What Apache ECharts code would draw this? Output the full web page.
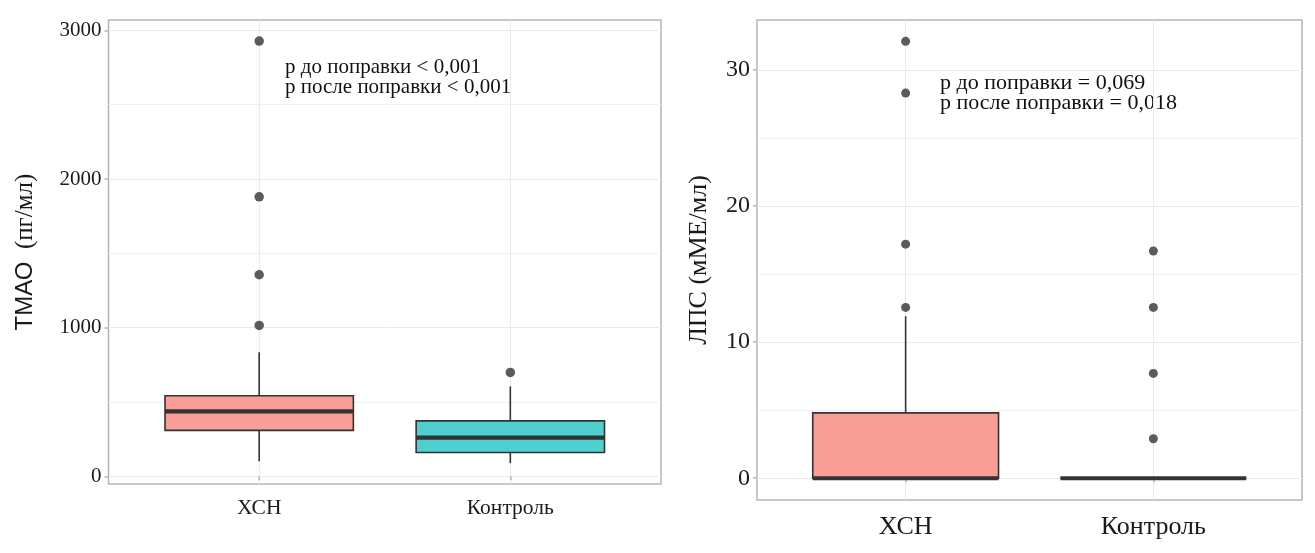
<!DOCTYPE html>
<html>
<head>
<meta charset="utf-8">
<script src="https://cdn.jsdelivr.net/npm/echarts@6/dist/echarts.min.js"></script>
<style>
html,body{margin:0;padding:0;background:#fff;}
#chart{width:1315px;height:553px;}
</style>
</head>
<body>
<div id="chart"></div>
<script>
// ---- data ----
const categories = ['ХСН', 'Контроль'];
// box stats per category: [lower whisker, Q1, median, Q3, upper whisker]
const tmaoBox = [[101, 309, 437, 542, 834], [88, 160, 260, 373, 604]];
const tmaoOutliers = [[2928, 1880, 1356, 1015], [699]];
const lpsBox = [[0, 0, 0, 4.8, 11.9], [0, 0, 0, 0, 0]];
const lpsOutliers = [[32.1, 28.3, 17.2, 12.55], [16.7, 12.55, 7.7, 2.9]];
const tmaoTicks = [0, 1000, 2000, 3000];
const tmaoMinorTicks = [500, 1500, 2500];
const lpsTicks = [0, 10, 20, 30];
const lpsMinorTicks = [5, 15, 25];
const categoryPositions = [1, 2];
const lpsTitle = 'ЛПС (мМЕ/мл)';
const tmaoNote = ['p до поправки < 0,001', 'p после поправки < 0,001'];
const lpsNote = ['p до поправки = 0,069', 'p после поправки = 0,018'];

// ---- styles ----
const boxColors = ['#F99D97', '#4ED0D0'];
const SERIF = '"Liberation Serif", "Times New Roman", serif';
const gridColor = '#ebebeb';
const borderColor = '#b5b5b5';

function boxData(stats) {
  return stats.map((s, i) => [categoryPositions[i]].concat(s));
}
function outlierData(outs) {
  const res = [];
  outs.forEach((arr, i) => arr.forEach(v => res.push([categoryPositions[i], v])));
  return res;
}
function renderBox(params, api) {
  const x = api.value(0);
  const low = api.coord([x, api.value(1)]);
  const q1 = api.coord([x, api.value(2)]);
  const med = api.coord([x, api.value(3)]);
  const q3 = api.coord([x, api.value(4)]);
  const high = api.coord([x, api.value(5)]);
  const w = api.size([0.75, 0])[0];
  const cx = low[0];
  const stroke = '#333333';
  const children = [];
  if (high[1] < q3[1]) children.push({type: 'line', shape: {x1: cx, y1: high[1], x2: cx, y2: q3[1]}, style: {stroke, lineWidth: 1.6}});
  if (low[1] > q1[1]) children.push({type: 'line', shape: {x1: cx, y1: q1[1], x2: cx, y2: low[1]}, style: {stroke, lineWidth: 1.6}});
  children.push({type: 'rect', shape: {x: cx - w / 2, y: q3[1], width: w, height: q1[1] - q3[1]},
    style: {fill: boxColors[params.dataIndex], stroke, lineWidth: 1.6}});
  children.push({type: 'line', shape: {x1: cx - w / 2, y1: med[1], x2: cx + w / 2, y2: med[1]},
    style: {stroke, lineWidth: 4.2}});
  return {type: 'group', children};
}

function xAxisDef(gridIndex, fontSize, margin) {
  return {
    type: 'value', gridIndex, min: 0.4, max: 2.6,
    axisLine: {show: false},
    axisTick: {show: true, length: 4, customValues: categoryPositions, lineStyle: {color: borderColor, width: 1.5}},
    axisLabel: {customValues: categoryPositions, fontFamily: SERIF, fontSize, color: '#1a1a1a', margin,
      formatter: v => categories[categoryPositions.indexOf(v)] || ''},
    splitLine: {show: true, lineStyle: {color: gridColor, width: 1}}
  };
}
function yAxisMajor(gridIndex, min, max, ticks, fontSize, name, nameGap, nameSize, rich) {
  return {
    type: 'value', gridIndex, min, max, position: 'left',
    name, nameLocation: 'middle', nameGap, nameRotate: 90,
    nameTextStyle: {fontFamily: SERIF, fontSize: nameSize, color: '#1a1a1a', rich},
    axisLine: {show: false},
    axisTick: {show: true, length: 4, customValues: ticks, lineStyle: {color: borderColor, width: 1.5}},
    axisLabel: {customValues: ticks, fontFamily: SERIF, fontSize, color: '#1a1a1a', margin: 7,
      formatter: v => String(v)},
    splitLine: {show: true, lineStyle: {color: gridColor, width: 1}}
  };
}
function yAxisMinor(gridIndex, min, max, ticks) {
  return {
    type: 'value', gridIndex, min, max, position: 'right',
    axisLine: {show: false},
    axisTick: {show: false, customValues: ticks},
    axisLabel: {show: false, customValues: ticks},
    splitLine: {show: true, lineStyle: {color: '#f0f0f0', width: 1}}
  };
}

const chart = echarts.init(document.getElementById('chart'), null, {renderer: 'canvas'});
const option = {
  backgroundColor: '#ffffff',
  animation: false,
  grid: [
    {left: 108.5, top: 20, width: 552.5, height: 464, show: true, borderColor, borderWidth: 1.5, backgroundColor: 'transparent', containLabel: false, outerBoundsMode: 'none'},
    {left: 757, top: 20, width: 545, height: 480, show: true, borderColor, borderWidth: 1.5, backgroundColor: 'transparent', containLabel: false, outerBoundsMode: 'none'}
  ],
  xAxis: [xAxisDef(0, 21.5, 13), xAxisDef(1, 26, 14)],
  yAxis: [
    yAxisMajor(0, -52, 3070, tmaoTicks, 21, '{a|ТМАО}  {b|(пг/мл)}', 71, 25,
      {a: {fontFamily: '"Liberation Sans", Arial, sans-serif', fontSize: 24, color: '#1a1a1a'},
       b: {fontFamily: SERIF, fontSize: 25, color: '#1a1a1a'}}),
    yAxisMajor(1, -1.6, 33.67, lpsTicks, 24, lpsTitle, 45, 26),
    yAxisMinor(0, -52, 3070, tmaoMinorTicks),
    yAxisMinor(1, -1.6, 33.67, lpsMinorTicks)
  ],
  series: [
    {type: 'custom', xAxisIndex: 0, yAxisIndex: 0, renderItem: renderBox, data: boxData(tmaoBox),
      encode: {x: 0, y: [1, 2, 3, 4, 5]}, z: 2},
    {type: 'scatter', xAxisIndex: 0, yAxisIndex: 0, data: outlierData(tmaoOutliers), symbolSize: 9.5,
      itemStyle: {color: '#5b5b5b', opacity: 1}, z: 3},
    {type: 'custom', xAxisIndex: 1, yAxisIndex: 1, renderItem: renderBox, data: boxData(lpsBox),
      encode: {x: 0, y: [1, 2, 3, 4, 5]}, z: 2},
    {type: 'scatter', xAxisIndex: 1, yAxisIndex: 1, data: outlierData(lpsOutliers), symbolSize: 9,
      itemStyle: {color: '#5b5b5b', opacity: 1}, z: 3}
  ],
  graphic: [
    {type: 'text', left: 285, top: 57, style: {text: tmaoNote[0], font: '21px ' + SERIF, fill: '#111'}},
    {type: 'text', left: 285, top: 77, style: {text: tmaoNote[1], font: '21px ' + SERIF, fill: '#111'}},
    {type: 'text', left: 940, top: 72, style: {text: lpsNote[0], font: '22px ' + SERIF, fill: '#111'}},
    {type: 'text', left: 940, top: 92, style: {text: lpsNote[1], font: '22px ' + SERIF, fill: '#111'}}
  ]
};
chart.setOption(option);
</script>
</body>
</html>
